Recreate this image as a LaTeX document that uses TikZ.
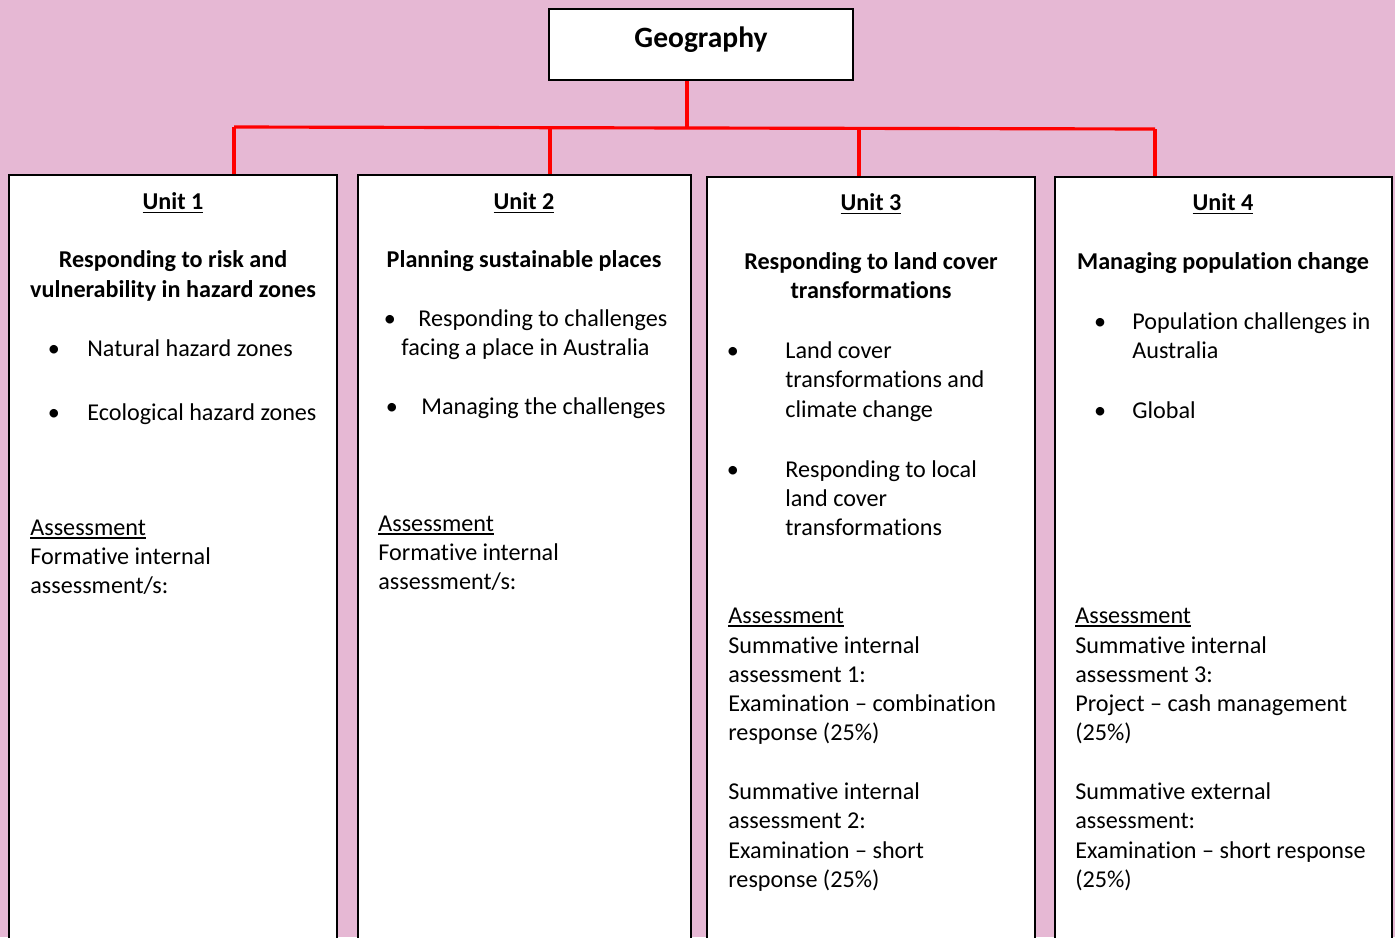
\documentclass[tikz,border=0pt]{standalone}
\usepackage{fontspec}
\setmainfont[Ligatures={TeX,NoCommon}]{Carlito}
\usetikzlibrary{fit}
\definecolor{bg}{RGB}{230,184,212}
\definecolor{conn}{RGB}{255,0,0}
\newcommand{\myulb}[1]{\setbox0\hbox{#1}\rlap{\rule[-2.4pt]{\wd0}{0.9pt}}\box0}
\newcommand{\myul}[1]{\setbox0\hbox{#1}\rlap{\rule[-2.0pt]{\wd0}{0.7pt}}\box0}
\tikzset{
  box/.style={draw=black, fill=white, line width=1.2pt, inner sep=0pt},
  link/.style={draw=conn, line width=1.8pt},
  tx/.style={inner sep=0pt, anchor=base west, font=\fontsize{13.75}{16.5}\selectfont},
  hd/.style={inner sep=0pt, anchor=base, font=\fontsize{13.75}{16.5}\selectfont\bfseries},
  bul/.style={inner sep=0pt, anchor=base, font=\fontsize{13.75}{16.5}\selectfont},
  ttl/.style={inner sep=0pt, anchor=base, font=\fontsize{16.8}{20}\selectfont\bfseries},
}
\begin{document}
\begin{tikzpicture}[x=0.02cm,y=-0.02cm]
\clip (0,0) rectangle (1395,937);
\fill[bg] (0,0) rectangle (1395,937);

% boxes
\node[box, fit={(549,9) (853,80)}] (geo) {};
\node[ttl] (geot) at (701,47) {Geography};
\node[box, fit={(9,175) (337,960)}] (u1) {};
\node[box, fit={(358,175) (691,960)}] (u2) {};
\node[box, fit={(707,177) (1035,960)}] (u3) {};
\node[box, fit={(1055,177) (1392,960)}] (u4) {};

% connectors
\coordinate (hub) at (687,127.5);
\coordinate (b1) at (234,127);
\coordinate (b2) at (550,127.5);
\coordinate (b3) at (859,128.5);
\coordinate (b4) at (1155,129);
\draw[link] (geo.south -| hub) -- (hub);
\draw[link] (b1) -- (b4);
\draw[link] (b1) -- (b1 |- u1.north);
\draw[link] (b2) -- (b2 |- u2.north);
\draw[link] (b3) -- (b3 |- u3.north);
\draw[link] (b4) -- (b4 |- u4.north);

% Unit 1
\node[hd] (u1h) at (173,209) {\myulb{Unit 1}};
\node[hd] (u1t1) at (173,267) {Responding to risk and};
\node[hd] (u1t2) at (173,297) {vulnerability in hazard zones};
\node[bul] (u1p1) at (54,356) {\textbullet};
\node[tx] (u1l1) at (87,356) {Natural hazard zones};
\node[bul] (u1p2) at (54,420) {\textbullet};
\node[tx] (u1l2) at (87,420) {Ecological hazard zones};
\node[tx] (u1a0) at (30,535) {\myul{Assessment}};
\node[tx] (u1a1) at (30,564) {Formative internal};
\node[tx] (u1a2) at (30,593) {assessment/s:};

% Unit 2
\node[hd] (u2h) at (524,209) {\myulb{Unit 2}};
\node[hd] (u2t1) at (524,267) {Planning sustainable places};
\node[bul] (u2p1) at (390,326) {\textbullet};
\node[tx] (u2l1) at (418,326) {Responding to challenges};
\node[tx] (u2l2) at (401,355) {facing a place in Australia};
\node[bul] (u2p2) at (392,414) {\textbullet};
\node[tx] (u2l3) at (421,414) {Managing the challenges};
\node[tx] (u2a0) at (378,531) {\myul{Assessment}};
\node[tx] (u2a1) at (378,560) {Formative internal};
\node[tx] (u2a2) at (378,589) {assessment/s:};

% Unit 3
\node[hd] (u3h) at (871,210) {\myulb{Unit 3}};
\node[hd] (u3t1) at (871,269) {Responding to land cover};
\node[hd] (u3t2) at (871,298) {transformations};
\node[bul] (u3p1) at (733,358) {\textbullet};
\node[tx] (u3l1) at (785,358) {Land cover};
\node[tx] (u3l2) at (785,387) {transformations and};
\node[tx] (u3l3) at (785,417) {climate change};
\node[bul] (u3p2) at (733,477) {\textbullet};
\node[tx] (u3l4) at (785,477) {Responding to local};
\node[tx] (u3l5) at (785,506) {land cover};
\node[tx] (u3l6) at (785,535) {transformations};
\node[tx] (u3a0) at (728,623) {\myul{Assessment}};
\node[tx] (u3a1) at (728,653) {Summative internal};
\node[tx] (u3a2) at (728,682) {assessment 1:};
\node[tx] (u3a3) at (728,711) {Examination – combination};
\node[tx] (u3a4) at (728,740) {response (25\%)};
\node[tx] (u3a5) at (728,799) {Summative internal};
\node[tx] (u3a6) at (728,828) {assessment 2:};
\node[tx] (u3a7) at (728,858) {Examination – short};
\node[tx] (u3a8) at (728,887) {response (25\%)};

% Unit 4
\node[hd] (u4h) at (1223,210) {\myulb{Unit 4}};
\node[hd] (u4t1) at (1223,269) {Managing population change};
\node[bul] (u4p1) at (1100,329) {\textbullet};
\node[tx] (u4l1) at (1132,329) {Population challenges in};
\node[tx] (u4l2) at (1132,358) {Australia};
\node[bul] (u4p2) at (1100,418) {\textbullet};
\node[tx] (u4l3) at (1132,418) {Global};
\node[tx] (u4a0) at (1075,623) {\myul{Assessment}};
\node[tx] (u4a1) at (1075,653) {Summative internal};
\node[tx] (u4a2) at (1075,682) {assessment 3:};
\node[tx] (u4a3) at (1075,711) {Project – cash management};
\node[tx] (u4a4) at (1075,740) {(25\%)};
\node[tx] (u4a5) at (1075,799) {Summative external};
\node[tx] (u4a6) at (1075,828) {assessment:};
\node[tx] (u4a7) at (1075,858) {Examination – short response};
\node[tx] (u4a8) at (1075,887) {(25\%)};
\end{tikzpicture}
\end{document}
